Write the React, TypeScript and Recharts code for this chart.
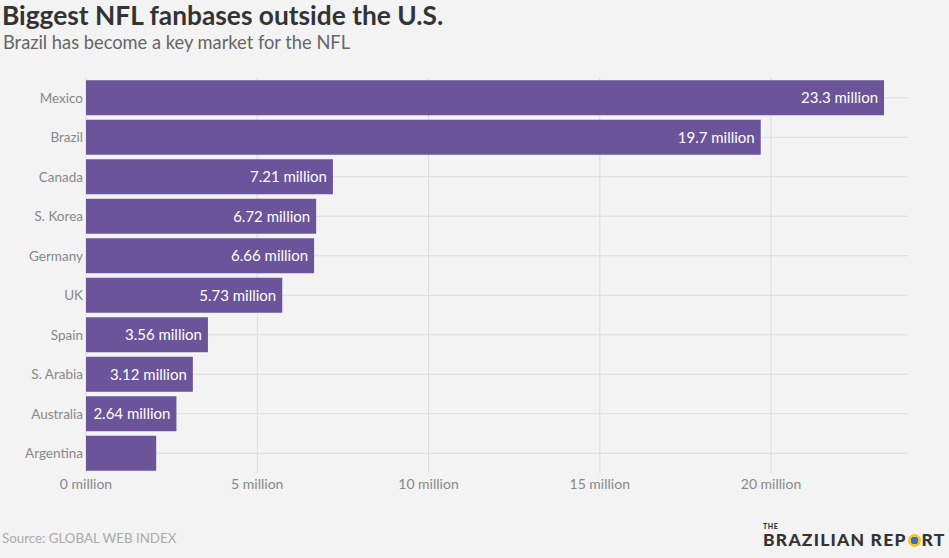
import { BarChart, Bar, XAxis, YAxis, CartesianGrid, LabelList } from 'recharts';

const countries = ['Mexico', 'Brazil', 'Canada', 'S. Korea', 'Germany', 'UK', 'Spain', 'S. Arabia', 'Australia', 'Argentina'];
const fans = [23.3, 19.7, 7.21, 6.72, 6.66, 5.73, 3.56, 3.12, 2.64, 2.05];
const xTicks = [0, 5, 10, 15, 20];

const data = countries.map((country, i) => ({ country, fans: fans[i] }));

const FONT = 'Lato, "Open Sans", sans-serif';
const BG = '#f3f3f3';
const PURPLE = '#6b5499';

export default function App() {
  return (
    <div
      style={{
        position: 'absolute',
        top: 0,
        left: 0,
        width: 949,
        height: 558,
        background: BG,
        fontFamily: FONT,
        overflow: 'hidden',
      }}
    >
      <div
        style={{
          position: 'absolute',
          left: 2,
          top: 1,
          fontSize: 26.3,
          lineHeight: '29px',
          fontWeight: 700,
          color: '#333',
          whiteSpace: 'nowrap',
        }}
      >
        Biggest NFL fanbases outside the U.S.
      </div>
      <div
        style={{
          position: 'absolute',
          left: 3,
          top: 33,
          fontSize: 18.3,
          lineHeight: '19px',
          color: '#666',
          whiteSpace: 'nowrap',
        }}
      >
        Brazil has become a key market for the NFL
      </div>
      <BarChart
        width={949}
        height={558}
        data={data}
        layout="vertical"
        margin={{ top: 78, right: 41, bottom: 55, left: 6 }}
        barCategoryGap="6%"
      >
        <CartesianGrid stroke="#dcdcdc" syncWithTicks />
        <XAxis
          type="number"
          domain={[0, 24]}
          ticks={xTicks}
          tickFormatter={(v) => `${v} million`}
          axisLine={false}
          tickLine={false}
          tickSize={0}
          tickMargin={6}
          tick={{ fill: '#888', fontSize: 14, fontFamily: FONT }}
        />
        <YAxis
          type="category"
          dataKey="country"
          width={80}
          axisLine={false}
          tickLine={false}
          tickSize={0}
          tickMargin={3}
          tick={{ fill: '#888', fontSize: 13.5, fontFamily: FONT }}
        />
        <Bar dataKey="fans" fill={PURPLE} isAnimationActive={false}>
          <LabelList
            dataKey="fans"
            position="insideRight"
            offset={6}
            formatter={(v: number) => (v < 2.5 ? '' : `${v} million`)}
            style={{ fill: '#fff', fontSize: 15, fontFamily: FONT }}
          />
        </Bar>
      </BarChart>
      <div style={{ position: 'absolute', left: 2, top: 530, fontSize: 13.3, color: '#aaa' }}>
        Source: GLOBAL WEB INDEX
      </div>
      <div style={{ position: 'absolute', left: 763, top: 523, color: '#333', fontWeight: 900 }}>
        <div style={{ fontSize: 7, lineHeight: '7px', letterSpacing: 0.5 }}>THE</div>
        <div style={{ fontSize: 17.5, lineHeight: '20px', letterSpacing: 1.2 }}>
          BRAZILIAN REP
          <span
            style={{
              display: 'inline-block',
              width: 13,
              height: 13,
              borderRadius: '50%',
              background: 'radial-gradient(circle, #3b6fc4 40%, #f2c230 42%)',
              verticalAlign: '-1px',
              margin: '0 1px',
            }}
          />
          RT
        </div>
      </div>
    </div>
  );
}
